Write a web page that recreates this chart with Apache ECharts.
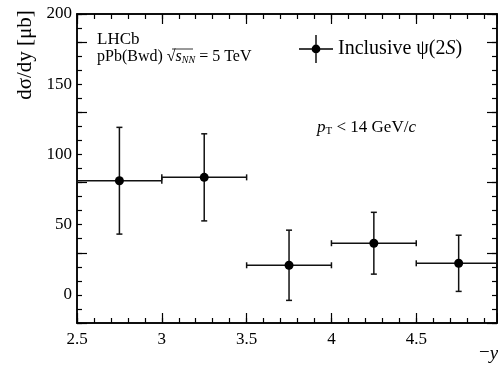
<!DOCTYPE html>
<html><head><meta charset="utf-8">
<script src="https://cdn.jsdelivr.net/npm/echarts@6/dist/echarts.min.js"></script>
<style>html,body{margin:0;padding:0;background:#fff}#c{width:498px;height:368px}</style>
</head><body><div id="c"></div>
<script>
// ---- data ----
const binCenters = [2.75, 3.25, 3.75, 4.25, 4.75];
const binHalfWidths = [0.25, 0.25, 0.25, 0.25, 0.25];
const crossSection = [81.3, 83.7, 21.1, 36.8, 22.5];
const crossSectionErr = [38, 31, 25, 22, 20];
const xMin = 2.5, xMax = 4.976, xMajor = 0.5, xMinor = 0.1;
const yMin = -20, yMax = 200, yMajor = 50, yMinor = 10;
const seriesName = 'Inclusive ψ(2S)';

const FONT = '"Liberation Serif", "DejaVu Serif", serif';
const chart = echarts.init(document.getElementById('c'), null, {renderer: 'canvas'});

function isMult(v, step) { const q = v / step; return Math.abs(q - Math.round(q)) < 1e-6; }
function fmt(v) { return String(Math.round(v * 10) / 10); }

const axisLine = {show: true, onZero: false, lineStyle: {color: '#000', width: 1.5}};
function xAx(pos, interval, len, labels) {
  return {
    type: 'value', position: pos, min: xMin, max: xMax, interval: interval,
    axisLine: axisLine, splitLine: {show: false},
    axisTick: {show: true, inside: true, length: len, lineStyle: {color: '#000', width: 1.2}},
    axisLabel: labels ? {show: true, margin: 8, color: '#000', fontFamily: FONT, fontSize: 17,
      showMaxLabel: false,
      formatter: v => isMult(v, xMajor) ? fmt(v) : ''} : {show: false}
  };
}
function yAx(pos, interval, len, labels) {
  return {
    type: 'value', position: pos, min: yMin, max: yMax, interval: interval,
    axisLine: axisLine, splitLine: {show: false},
    axisTick: {show: true, inside: true, length: len, lineStyle: {color: '#000', width: 1.2}},
    axisLabel: labels ? {show: true, margin: 5, color: '#000', fontFamily: FONT, fontSize: 17,
      formatter: v => isMult(v, yMajor) ? fmt(v) : ''} : {show: false}
  };
}

function renderItem(params, api) {
  const x = api.value(0), hw = api.value(1), y = api.value(2), e = api.value(3);
  const c = api.coord([x, y]);
  const l = api.coord([x - hw, y]), r = api.coord([x + hw, y]);
  const t = api.coord([x, y + e]), b = api.coord([x, y - e]);
  const st = {stroke: '#111', lineWidth: 1.5};
  const cap = 3;
  return {type: 'group', children: [
    {type: 'line', shape: {x1: l[0], y1: l[1], x2: r[0], y2: r[1]}, style: st},
    {type: 'line', shape: {x1: l[0], y1: l[1] - cap, x2: l[0], y2: l[1] + cap}, style: st},
    {type: 'line', shape: {x1: r[0], y1: r[1] - cap, x2: r[0], y2: r[1] + cap}, style: st},
    {type: 'line', shape: {x1: t[0], y1: t[1], x2: b[0], y2: b[1]}, style: st},
    {type: 'line', shape: {x1: t[0] - cap, y1: t[1], x2: t[0] + cap, y2: t[1]}, style: st},
    {type: 'line', shape: {x1: b[0] - cap, y1: b[1], x2: b[0] + cap, y2: b[1]}, style: st},
    {type: 'circle', shape: {cx: c[0], cy: c[1], r: 4.5}, style: {fill: '#000'}}
  ]};
}

const data = binCenters.map((x, i) => [x, binHalfWidths[i], crossSection[i], crossSectionErr[i]]);

const legendIcon = 'path://M0 13.3H34V14.7H0Z M16.3 0H17.7V28H16.3Z M12.6 14A4.4 4.4 0 1 1 21.4 14A4.4 4.4 0 1 1 12.6 14Z';

chart.setOption({
  animation: false,
  backgroundColor: '#fff',
  grid: {left: 77, right: 1, top: 14, bottom: 45, containLabel: false},
  xAxis: [xAx('bottom', xMinor, 5, true), xAx('bottom', xMajor, 10, false),
          xAx('top', xMinor, 5, false), xAx('top', xMajor, 10, false)],
  yAxis: [yAx('left', yMinor, 5, true), yAx('left', yMajor, 10, false),
          yAx('right', yMinor, 5, false), yAx('right', yMajor, 10, false)],
  legend: {
    left: 294, top: 30, itemWidth: 34, itemHeight: 28, selectedMode: false,
    data: [{name: seriesName, icon: legendIcon}],
    formatter: () => '{a|Inclusive ψ(2}{i|S}{a|)}',
    textStyle: {rich: {
      a: {fontFamily: FONT, fontSize: 20, color: '#000'},
      i: {fontFamily: FONT, fontSize: 20, fontStyle: 'italic', color: '#000'}
    }}
  },
  series: [{
    name: seriesName, type: 'custom', renderItem: renderItem, clip: true,
    xAxisIndex: 0, yAxisIndex: 0, itemStyle: {color: '#000'},
    encode: {x: 0, y: 2}, data: data
  }],
  graphic: [
    {type: 'text', x: 25, y: 55, rotation: Math.PI / 2,
     style: {text: 'dσ/dy [μb]', align: 'center', verticalAlign: 'middle', font: '21px ' + FONT, fill: '#000'}},
    {type: 'text', x: 97, y: 31, style: {text: 'LHCb', font: '17px ' + FONT, fill: '#000'}},
    {type: 'text', x: 97, y: 49, style: {
      text: '{a|pPb(Bwd) }{r|√}{i|s}{s|NN}{a| = 5 TeV}',
      rich: {
        a: {fontFamily: FONT, fontSize: 16, color: '#000'},
        r: {fontFamily: FONT, fontSize: 16, color: '#000'},
        i: {fontFamily: FONT, fontSize: 16, fontStyle: 'italic', color: '#000'},
        s: {fontFamily: FONT, fontSize: 10, fontStyle: 'italic', color: '#000', verticalAlign: 'bottom', padding: [6, 0, 0, 0]}
      }}},
    {type: 'line', shape: {x1: 172, y1: 49, x2: 193, y2: 49}, style: {stroke: '#000', lineWidth: 0.8}},
    {type: 'text', x: 317, y: 118, style: {
      text: '{i|p}{s|T}{a| < 14 GeV/}{i|c}',
      rich: {
        a: {fontFamily: FONT, fontSize: 17, color: '#000'},
        i: {fontFamily: FONT, fontSize: 17, fontStyle: 'italic', color: '#000'},
        s: {fontFamily: FONT, fontSize: 11, color: '#000', padding: [8, 0, 0, 0]}
      }}},
    {type: 'text', x: 479, y: 344, style: {
      text: '{a|−}{i|y}',
      rich: {
        a: {fontFamily: FONT, fontSize: 19, color: '#000'},
        i: {fontFamily: FONT, fontSize: 19, fontStyle: 'italic', color: '#000'}
      }}}
  ]
});
</script></body></html>
